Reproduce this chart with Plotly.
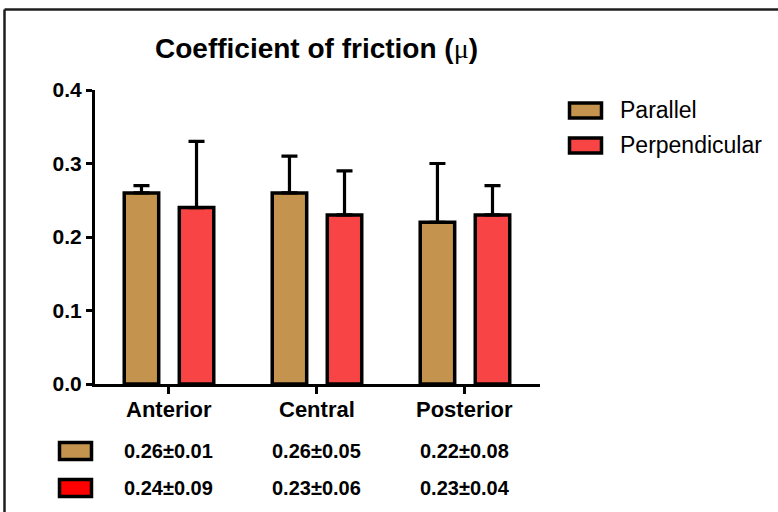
import plotly.graph_objects as go

# Mean ± SD of the coefficient of friction per region and fibre orientation
categories = ["Anterior", "Central", "Posterior"]
series_names = ["Parallel", "Perpendicular"]
parallel_mean = [0.26, 0.26, 0.22]
parallel_sd = [0.01, 0.05, 0.08]
perp_mean = [0.24, 0.23, 0.23]
perp_sd = [0.09, 0.06, 0.04]
y_ticks = [0.0, 0.1, 0.2, 0.3, 0.4]

TAN = "#C4944F"
RED = "#F84444"
TABLE_RED = "#FF0000"
FONT = "Liberation Sans, Arial, sans-serif"

W, H = 778, 512
ML, MR, MT, MB = 95, 238, 90, 128


def px_x(x):
    """Convert a page pixel x to paper coordinates."""
    return (x - ML) / (W - ML - MR)


def px_y(y):
    """Convert a page pixel y (from top) to paper coordinates."""
    return 1 - (y - MT) / (H - MT - MB)


xpos = list(range(len(categories)))

fig = go.Figure()
for name, mean, sd, color in [
    (series_names[0], parallel_mean, parallel_sd, TAN),
    (series_names[1], perp_mean, perp_sd, RED),
]:
    fig.add_trace(go.Bar(
        x=xpos, y=mean, name=name,
        marker=dict(color=color, line=dict(color="black", width=3.5)),
        error_y=dict(type="data", array=sd, arrayminus=[0] * len(sd),
                     symmetric=False, color="black", thickness=3.2, width=8),
        showlegend=False,
    ))

annotations = []
shapes = []

# Title
annotations.append(dict(
    xref="paper", yref="paper", x=px_x(316), y=px_y(49),
    text='<b>Coefficient of friction (</b><span style="font-family:Liberation Serif">μ</span><b>)</b>',
    showarrow=False, xanchor="center", yanchor="middle",
    font=dict(family=FONT, size=28, color="black"),
))

# Category labels under the axis
for i, cat in enumerate(categories):
    annotations.append(dict(
        xref="x", yref="paper", x=i, y=px_y(409), text=f"<b>{cat}</b>",
        showarrow=False, xanchor="center", yanchor="middle",
        font=dict(family=FONT, size=22, color="black"),
    ))

# Summary table rows
for row_y, mean, sd, color in [(451, parallel_mean, parallel_sd, TAN),
                               (488, perp_mean, perp_sd, TABLE_RED)]:
    shapes.append(dict(
        type="rect", xref="paper", yref="paper",
        x0=px_x(59.5), x1=px_x(91.5), y0=px_y(row_y - 8.5), y1=px_y(row_y + 8.5),
        fillcolor=color, line=dict(color="black", width=3.5), layer="above",
    ))
    for i in range(len(categories)):
        annotations.append(dict(
            xref="x", yref="paper", x=i, y=px_y(row_y),
            text=f"<b>{mean[i]:.2f}±{sd[i]:.2f}</b>",
            showarrow=False, xanchor="center", yanchor="middle",
            font=dict(family=FONT, size=20, color="black"),
        ))

# Legend
for row_y, name, color in [(110.5, series_names[0], TAN), (145.5, series_names[1], RED)]:
    shapes.append(dict(
        type="rect", xref="paper", yref="paper",
        x0=px_x(569.5), x1=px_x(601.5), y0=px_y(row_y - 7.5), y1=px_y(row_y + 7.5),
        fillcolor=color, line=dict(color="black", width=3.5), layer="above",
    ))
    annotations.append(dict(
        xref="paper", yref="paper", x=px_x(618), y=px_y(row_y - 1),
        text=name, showarrow=False, xanchor="left", yanchor="middle",
        font=dict(family=FONT, size=23, color="black"),
    ))

# Outer frame (top and left edges)
shapes.append(dict(type="line", xref="paper", yref="paper",
                   x0=px_x(4.5), x1=px_x(W + 5), y0=px_y(9.5), y1=px_y(9.5),
                   line=dict(color="#1e1e1e", width=2.5), layer="above"))
shapes.append(dict(type="line", xref="paper", yref="paper",
                   x0=px_x(4.5), x1=px_x(4.5), y0=px_y(9.5), y1=px_y(H + 5),
                   line=dict(color="#1e1e1e", width=2.5), layer="above"))

fig.update_layout(
    width=W, height=H,
    margin=dict(l=ML, r=MR, t=MT, b=MB, pad=0),
    paper_bgcolor="white", plot_bgcolor="white",
    barmode="group", bargap=0.256, bargroupgap=0.374,
    annotations=annotations, shapes=shapes,
    showlegend=False,
    xaxis=dict(
        range=[-0.5, 2.507], tickvals=xpos, showticklabels=False,
        showline=True, linecolor="black", linewidth=2.5,
        ticks="outside", ticklen=7, tickwidth=2.5, tickcolor="black",
        showgrid=False, zeroline=False, fixedrange=True,
    ),
    yaxis=dict(
        range=[0, 0.4], tickvals=y_ticks, tickformat=".1f",
        showline=True, linecolor="black", linewidth=3,
        ticks="outside", ticklen=6, tickwidth=3, tickcolor="black",
        tickfont=dict(family=FONT, size=21, color="black", weight="bold"),
        showgrid=False, zeroline=False, fixedrange=True,
    ),
)

fig.write_html("out.html")
